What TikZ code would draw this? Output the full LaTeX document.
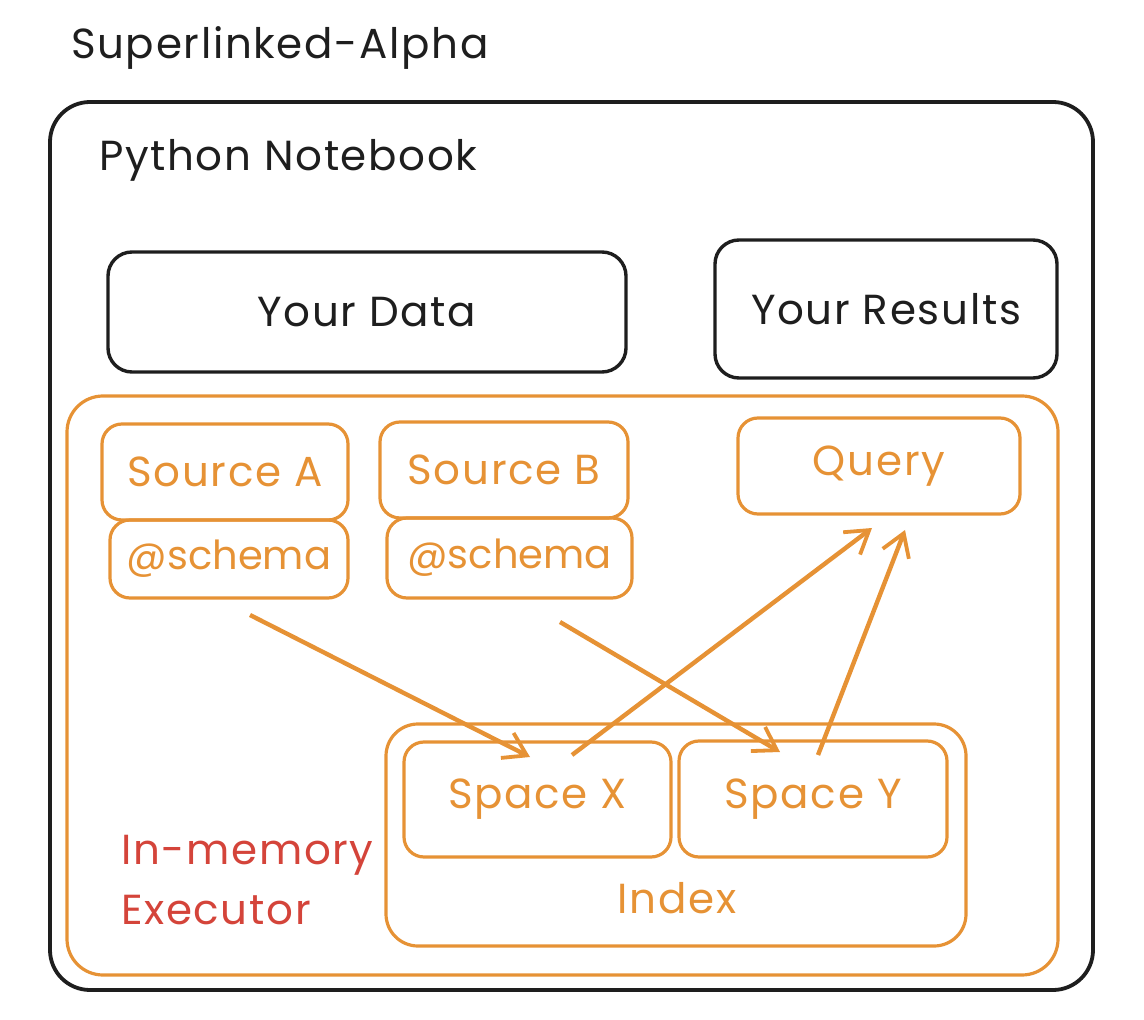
\documentclass[tikz,border=0pt]{standalone}
\usepackage{fontspec}
\setmainfont{Poppins}[LetterSpace=4]
\usepackage{tikz}
\usetikzlibrary{arrows.meta, positioning, calc}
\definecolor{execorange}{RGB}{230, 146, 53}
\definecolor{execred}{RGB}{212, 68, 58}
\definecolor{inkblack}{RGB}{30, 30, 30}

\begin{document}
\begin{tikzpicture}[
  x=0.5pt, y=-0.5pt,
  every node/.style={font=\fontsize{21}{30}\selectfont},
  inkbox/.style={draw=inkblack, line width=1.7pt, rounded corners=12pt, text=inkblack},
  orangebox/.style={draw=execorange, line width=1.6pt, rounded corners=10pt, text=execorange},
  schemabox/.style={orangebox, font=\fontsize{20}{30}\selectfont\addfontfeatures{LetterSpace=0}},
  feed/.style={draw=execorange, line width=2.2pt, -{Straight Barb[length=11pt, width=14pt, line width=1.9pt]}}
]
  \useasboundingbox (0,0) rectangle (1144,1020);

  % Title
  \node[anchor=west, text=inkblack] (title) at (64,48) {Superlinked-Alpha};

  % Python notebook
  \node[draw=inkblack, line width=1.9pt, rounded corners=20pt, minimum width=521.5pt, minimum height=444pt] (notebook) at (571.5,546) {};
  \node[anchor=west, text=inkblack] (nblabel) at (92,160) {Python Notebook};

  \node[inkbox, minimum width=259pt, minimum height=60pt] (data) at (367,312) {Your Data};
  \node[inkbox, minimum width=171pt, minimum height=69pt] (results) at (886,309) {Your Results};

  % In-memory executor
  \node[orangebox, rounded corners=18pt, minimum width=495.5pt, minimum height=289.5pt] (executor) at (562.5,685.5) {};
  \node[anchor=west, align=left, text=execred] (execlabel) at (114,880) {In-memory\\Executor};

  % Sources and schemas
  \node[orangebox, minimum width=123pt, minimum height=48pt] (srca) at (225,472) {Source A};
  \node[schemabox, minimum width=119pt, minimum height=39pt] (schemaa) at (229,559) {@schema};
  \node[orangebox, minimum width=124pt, minimum height=48pt] (srcb) at (504,470) {Source B};
  \node[schemabox, minimum width=122.5pt, minimum height=40pt] (schemab) at (509.5,558) {@schema};

  % Query
  \node[orangebox, minimum width=141pt, minimum height=48pt] (query) at (879,466) {Query};

  % Index with spaces
  \node[orangebox, rounded corners=16pt, minimum width=290pt, minimum height=111pt] (index) at (676,835) {};
  \node[text=execorange] (idxlabel) at (677,898) {Index};
  \node[orangebox, minimum width=133.5pt, minimum height=57.5pt] (spacex) at (537.5,799.5) {Space X};
  \node[orangebox, minimum width=134pt, minimum height=58pt] (spacey) at (813,799) {Space Y};

  % Arrows
  \coordinate (froma) at (250,615);
  \coordinate (fromb) at (560,622);
  \coordinate (intox) at (530,757);
  \coordinate (intoy) at (780,752);
  \coordinate (outx) at (572,755);
  \coordinate (outy) at (818,755);
  \coordinate (qleft) at (872,528);
  \coordinate (qright) at (905,530);
  \draw[feed] (froma) -- (intox);
  \draw[feed] (fromb) -- (intoy);
  \draw[feed] (outx) -- (qleft);
  \draw[feed] (outy) -- (qright);
\end{tikzpicture}
\end{document}
